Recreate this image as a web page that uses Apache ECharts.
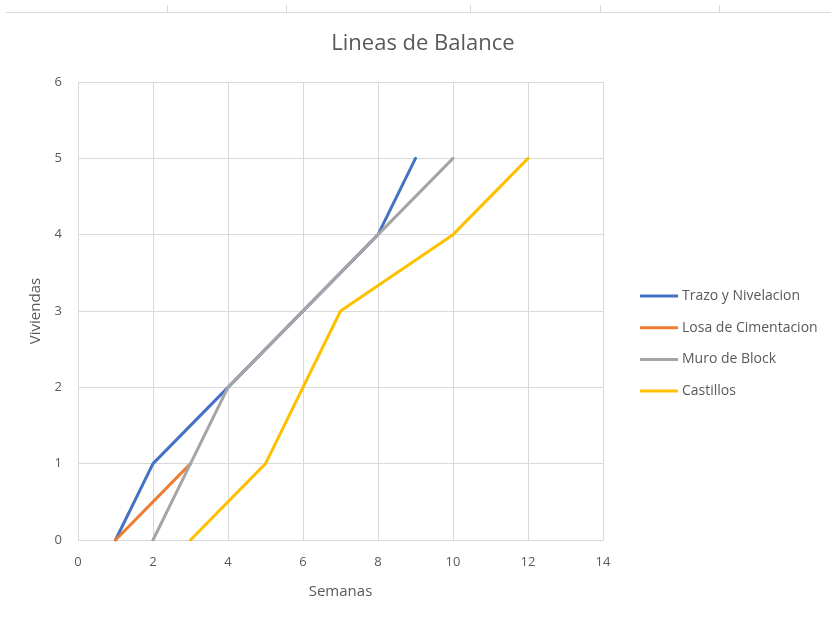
<!DOCTYPE html>
<html>
<head>
<meta charset="utf-8">
<script src="https://cdn.jsdelivr.net/npm/echarts@6/dist/echarts.min.js"></script>
<style>
  html, body { margin: 0; padding: 0; background: #fff; }
  #chart { width: 831px; height: 624px; }
</style>
</head>
<body>
<div id="chart"></div>
<script>
// Semanas (x) vs. Viviendas (y) for each activity
const seriesNames = ['Trazo y Nivelacion', 'Losa de Cimentacion', 'Muro de Block', 'Castillos'];
const trazoWeeks = [1, 2, 4, 8, 9];
const trazoHouses = [0, 1, 2, 4, 5];
const losaWeeks = [1, 3];
const losaHouses = [0, 1];
const muroWeeks = [2, 3, 4, 8, 10];
const muroHouses = [0, 1, 2, 4, 5];
const castillosWeeks = [3, 5, 7, 10, 12];
const castillosHouses = [0, 1, 3, 4, 5];
const colors = ['#4472C4', '#ED7D31', '#A5A5A5', '#FFC000'];

const FONT = '"Open Sans", "Noto Sans", sans-serif';
const TEXT = '#595959';

function pairs(xs, ys) { return xs.map((x, i) => [x, ys[i]]); }

const allData = [
  pairs(trazoWeeks, trazoHouses),
  pairs(losaWeeks, losaHouses),
  pairs(muroWeeks, muroHouses),
  pairs(castillosWeeks, castillosHouses)
];

const chart = echarts.init(document.getElementById('chart'), null, { renderer: 'canvas' });

chart.setOption({
  animation: false,
  backgroundColor: '#ffffff',
  color: colors,
  title: {
    text: 'Lineas de Balance',
    left: 418, top: 28, textAlign: 'center',
    textStyle: { fontFamily: FONT, fontSize: 22, fontWeight: 'normal', color: TEXT }
  },
  grid: { left: 78, right: 228, top: 82, bottom: 84, containLabel: false },
  legend: {
    orient: 'vertical',
    left: 635, top: 284,
    itemWidth: 38, itemHeight: 14, itemGap: 17.7,
    icon: 'path://M0,0 L38,0 L38,3 L0,3 Z',
    textStyle: { fontFamily: FONT, fontSize: 14, color: TEXT, padding: [0, 0, 0, -1] },
    data: seriesNames
  },
  xAxis: {
    type: 'value', min: 0, max: 14, interval: 2,
    name: 'Semanas', nameLocation: 'middle', nameGap: 44,
    nameTextStyle: { fontFamily: FONT, fontSize: 15, color: TEXT },
    axisLine: { show: true, lineStyle: { color: '#D9D9D9', width: 1 } },
    axisTick: { show: false },
    axisLabel: { fontFamily: FONT, fontSize: 13, color: TEXT, margin: 16 },
    splitLine: { show: true, lineStyle: { color: '#D9D9D9', width: 1 } }
  },
  yAxis: {
    type: 'value', min: 0, max: 6, interval: 1,
    name: 'Viviendas', nameLocation: 'middle', nameGap: 33,
    nameTextStyle: { fontFamily: FONT, fontSize: 15, color: TEXT },
    axisLine: { show: true, lineStyle: { color: '#D9D9D9', width: 1 } },
    axisTick: { show: false },
    axisLabel: { fontFamily: FONT, fontSize: 13, color: TEXT, margin: 16 },
    splitLine: { show: true, lineStyle: { color: '#D9D9D9', width: 1 } }
  },
  series: seriesNames.map((name, i) => ({
    name: name,
    type: 'line',
    data: allData[i],
    showSymbol: false,
    symbol: 'none',
    lineStyle: { width: 3, color: colors[i], cap: 'round', join: 'round' },
    z: 2 + i
  })),
  graphic: [
    // sheet cell borders along the top edge
    { type: 'line', shape: { x1: 6, y1: 12.5, x2: 831, y2: 12.5 }, style: { stroke: '#D9D9D9', lineWidth: 1 } },
    { type: 'line', shape: { x1: 167.5, y1: 5, x2: 167.5, y2: 12 }, style: { stroke: '#D9D9D9', lineWidth: 1 } },
    { type: 'line', shape: { x1: 286.5, y1: 5, x2: 286.5, y2: 12 }, style: { stroke: '#D9D9D9', lineWidth: 1 } },
    { type: 'line', shape: { x1: 470.5, y1: 5, x2: 470.5, y2: 12 }, style: { stroke: '#D9D9D9', lineWidth: 1 } },
    { type: 'line', shape: { x1: 600.5, y1: 5, x2: 600.5, y2: 12 }, style: { stroke: '#D9D9D9', lineWidth: 1 } },
    { type: 'line', shape: { x1: 719.5, y1: 5, x2: 719.5, y2: 12 }, style: { stroke: '#D9D9D9', lineWidth: 1 } }
  ]
});
</script>
</body>
</html>
